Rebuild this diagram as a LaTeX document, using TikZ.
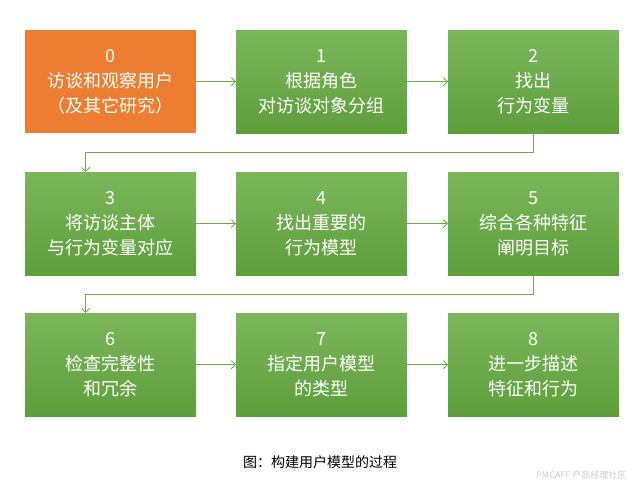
\documentclass[tikz,border=0pt]{standalone}
\usepackage{fontspec}
\setmainfont{Noto Sans CJK SC}
\usetikzlibrary{arrows.meta}
\definecolor{gtop}{HTML}{7AB75A}
\definecolor{gbot}{HTML}{5E9E3B}
\definecolor{org}{HTML}{ED7D31}
\definecolor{ln}{HTML}{70AD47}
\tikzset{
 box/.style={minimum width=171pt,minimum height=103pt,inner sep=0pt,text=white,font=\fontsize{18}{25}\selectfont,align=center,anchor=north west},
 gbox/.style={box,top color=gtop,bottom color=gbot},
 obox/.style={box,fill=org},
 conn/.style={draw=ln,line width=0.9pt,-{Straight Barb[length=4pt,width=8pt]}}
}
\begin{document}
\begin{tikzpicture}[x=1pt,y=-1pt]
\useasboundingbox[fill=white] (0,0) rectangle (640,489);
\node[obox] (b0) at (25,30) {0\\访谈和观察用户\\（及其它研究）};
\node[gbox] (b1) at (236,30) {1\\根据角色\\对访谈对象分组};
\node[gbox] (b2) at (448,30) {2\\找出\\行为变量};
\node[gbox] (b3) at (25,172) {3\\将访谈主体\\与行为变量对应};
\node[gbox] (b4) at (236,172) {4\\找出重要的\\行为模型};
\node[gbox] (b5) at (448,172) {5\\综合各种特征\\阐明目标};
\node[gbox] (b6) at (25,313) {6\\检查完整性\\和冗余};
\node[gbox] (b7) at (236,313) {7\\指定用户模型\\的类型};
\node[gbox] (b8) at (448,313) {8\\进一步描述\\特征和行为};
\draw[conn] (b0.east) -- (b1.west);
\draw[conn] (b1.east) -- (b2.west);
\draw[conn] (b3.east) -- (b4.west);
\draw[conn] (b4.east) -- (b5.west);
\draw[conn] (b6.east) -- (b7.west);
\draw[conn] (b7.east) -- (b8.west);
\draw[conn] (b2.south) -- ++(0,19) -| ([xshift=-25pt]b3.north);
\draw[conn] (b5.south) -- ++(0,19) -| ([xshift=-25pt]b6.north);
\node[font=\fontsize{14}{16}\selectfont] (cap) at (320,462) {图：构建用户模型的过程};
\node[font=\fontsize{9}{10}\selectfont,text=black!20,anchor=east] (wm) at (630,475) {PMCAFF 产品经理社区};
\end{tikzpicture}
\end{document}
